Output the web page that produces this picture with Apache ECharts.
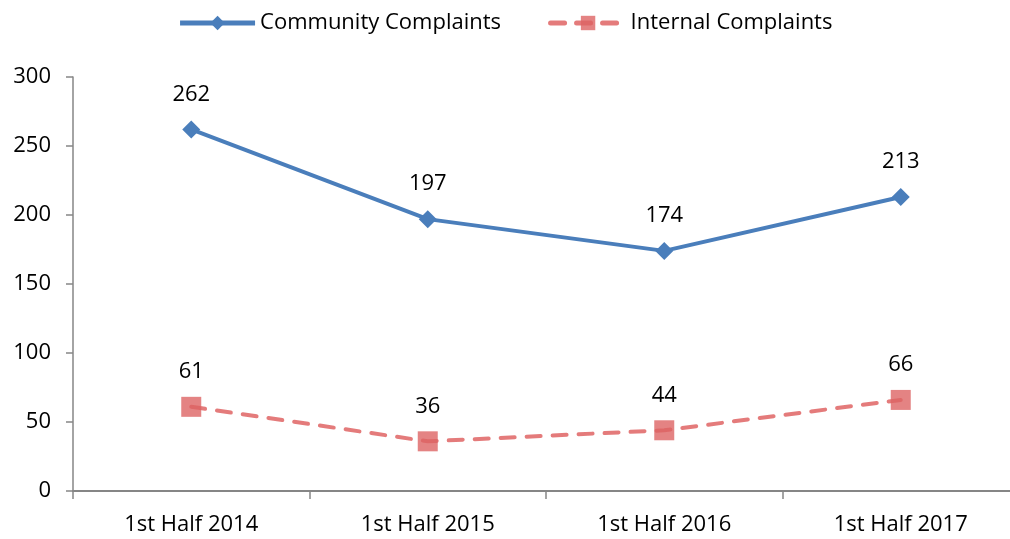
<!DOCTYPE html>
<html><head><meta charset="utf-8">
<script src="https://cdn.jsdelivr.net/npm/echarts@6/dist/echarts.min.js"></script>
<style>html,body{margin:0;padding:0;background:#fff}#c{width:1010px;height:539px}</style>
</head><body><div id="c"></div>
<script>
const categories = ['1st Half 2014','1st Half 2015','1st Half 2016','1st Half 2017'];
const community = [262, 197, 174, 213];
const internal = [61, 36, 44, 66];
const yTicks = [0, 50, 100, 150, 200, 250, 300];

const FONT = 'Open Sans';
const chart = echarts.init(document.getElementById('c'));
chart.setOption({
  animation: false,
  textStyle: { fontFamily: FONT, color: '#000' },
  legend: {
    top: 7, left: 'center', itemWidth: 75, itemHeight: 18, itemGap: 47,
    lineStyle: { width: 5 },
    textStyle: { fontSize: 22, fontFamily: FONT, color: '#000' },
    data: ['Community Complaints', 'Internal Complaints']
  },
  grid: { left: 73, width: 946, top: 77, bottom: 48, containLabel: false, outerBoundsMode: 'none' },
  xAxis: {
    type: 'category', data: categories, boundaryGap: true,
    axisLine: { lineStyle: { color: '#868686', width: 2 } },
    axisTick: { show: true, length: 8, lineStyle: { color: '#868686', width: 1.5 } },
    axisLabel: { fontSize: 22, color: '#000', margin: 23, fontFamily: FONT },
    splitLine: { show: false }
  },
  yAxis: {
    type: 'value', min: yTicks[0], max: yTicks[yTicks.length - 1], interval: 50,
    axisLine: { show: true, lineStyle: { color: '#868686', width: 1.5 } },
    axisTick: { show: true, length: 7, lineStyle: { color: '#868686', width: 1.5 } },
    axisLabel: { fontSize: 22, color: '#000', margin: 22, fontFamily: FONT },
    splitLine: { show: false }
  },
  series: [
    {
      name: 'Community Complaints', type: 'line', data: community,
      symbol: 'diamond', symbolSize: 18,
      lineStyle: { color: '#4A7EBB', width: 4 },
      itemStyle: { color: '#4A7EBB' },
      label: { show: true, position: 'top', distance: 15, fontSize: 22, color: '#000', fontFamily: FONT }
    },
    {
      name: 'Internal Complaints', type: 'line', data: internal,
      symbol: 'rect', symbolSize: 20,
      lineStyle: { color: 'rgba(221,90,90,0.8)', width: 4, type: [14, 12], cap: 'round' },
      itemStyle: { color: 'rgba(221,100,100,0.8)' },
      label: { show: true, position: 'top', distance: 14, fontSize: 22, color: '#000', fontFamily: FONT }
    }
  ]
});
</script></body></html>
